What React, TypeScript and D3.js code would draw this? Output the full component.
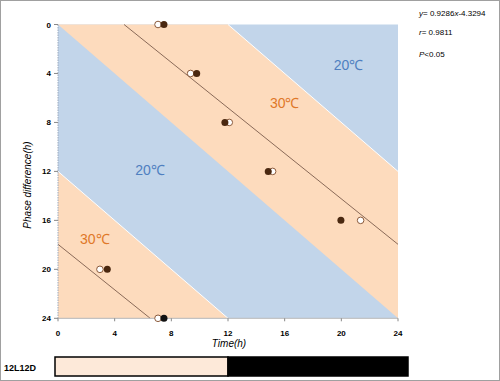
import React from "react";
import * as d3 from "d3";

const phaseDiff = [0, 4, 8, 12, 16, 20, 24];
const openTimes = [7.06, 9.36, 12.09, 15.15, 21.36, 2.96, 7.06];
const filledTimes = [7.48, 9.79, 11.78, 14.84, 19.97, 3.48, 7.48];
const xTicks = [0, 4, 8, 12, 16, 20, 24];
const yTicks = [0, 4, 8, 12, 16, 20, 24];
const slope = 0.9286;
const intercept = -4.3294;
const bandLabels = [
  { t: 20.5, p: 3.7, text: "20℃", color: "#4f7fc0" },
  { t: 16.0, p: 6.8, text: "30℃", color: "#e07828" },
  { t: 6.5, p: 12.3, text: "20℃", color: "#4f7fc0" },
  { t: 2.6, p: 17.9, text: "30℃", color: "#e07828" },
];

export default function App() {
  const W = 500, H = 381;
  const x = d3.scaleLinear().domain([0, 24]).range([58, 398]);
  const y = d3.scaleLinear().domain([0, 24]).range([24.5, 318.3]);
  const poly = (pts: [number, number][]) =>
    "M" + pts.map(([a, b]) => `${x(a)},${y(b)}`).join("L") + "Z";
  const orangeA: [number, number][] = [[0, 0], [12, 0], [24, 12], [24, 24]];
  const orangeD: [number, number][] = [[0, 12], [12, 24], [0, 24]];
  const orange = "#fddbbd";
  const blue = "#c2d5ea";
  const line1 = [[ -intercept / slope, 0], [24, slope * 24 + intercept]];
  const line2 = [[0, slope * 0 + intercept + slope * 24], [(24 - intercept - slope * 24) / slope, 24]];
  const font = "'Liberation Sans', Arial, sans-serif";
  return (
    <svg width={W} height={H} style={{ position: "absolute", left: 0, top: 0 }} fontFamily={font}>
      <rect x={0} y={0} width={W} height={H} fill="#fff" />
      <rect x={0.5} y={0.5} width={W - 1} height={H - 1} fill="none" stroke="#a0a0a0" />
      <rect x={x(0)} y={y(0)} width={x(24) - x(0)} height={y(24) - y(0)} fill={blue} />
      <path d={poly(orangeA)} fill={orange} />
      <path d={poly(orangeD)} fill={orange} />
      <line x1={x(12)} y1={y(0)} x2={x(24)} y2={y(12)} stroke="#fff" strokeWidth={1} />
      <line x1={x(0)} y1={y(12)} x2={x(12)} y2={y(24)} stroke="#fff" strokeWidth={1} />
      {bandLabels.map((b, i) => (
        <text key={i} x={x(b.t)} y={y(b.p)} fill={b.color} fontSize={14} textAnchor="middle">{b.text}</text>
      ))}
      {[line1, line2].map((l, i) => (
        <line key={i} x1={x(l[0][0])} y1={y(l[0][1])} x2={x(l[1][0])} y2={y(l[1][1])} stroke="#8a6a58" strokeWidth={1} />
      ))}
      {/* axes */}
      <line x1={x(0)} y1={y(0)} x2={x(0)} y2={y(24)} stroke="#9aa8bc" strokeWidth={1} strokeDasharray="1.5,1" />
      <line x1={x(0)} y1={y(24)} x2={x(24)} y2={y(24)} stroke="#b8b8b8" strokeWidth={1} />
      {yTicks.map((t) => (
        <g key={"y" + t}>
          <line x1={x(0) - 4} x2={x(0)} y1={y(t)} y2={y(t)} stroke="#888" />
          <text x={x(0) - 7} y={y(t) + 3} fontSize={8} fontWeight="bold" textAnchor="end">{t}</text>
        </g>
      ))}
      {xTicks.map((t) => (
        <g key={"x" + t}>
          <line x1={x(t)} x2={x(t)} y1={y(24)} y2={y(24) + 3} stroke="#888" />
          <text x={x(t)} y={y(24) + 18} fontSize={8} fontWeight="bold" textAnchor="middle">{t}</text>
        </g>
      ))}
      {phaseDiff.map((p, i) => (
        <g key={"pt" + i}>
          <circle cx={x(openTimes[i])} cy={y(p)} r={3.3} fill="#fff" stroke="#8b5a3a" strokeWidth={1} />
          <circle cx={x(filledTimes[i])} cy={y(p)} r={3.5} fill={i === 6 ? "#111" : "#4a2810"} />
        </g>
      ))}
      <text x={229} y={347} fontSize={10} fontStyle="italic" textAnchor="middle">Time(h)</text>
      <text transform="translate(31,185) rotate(-90)" fontSize={10} fontStyle="italic" textAnchor="middle">Phase difference(h)</text>
      <text x={419} y={16} fontSize={8}><tspan fontStyle="italic">y</tspan>= 0.9286<tspan fontStyle="italic">x</tspan>-4.3294</text>
      <text x={419} y={35} fontSize={8}><tspan fontStyle="italic">r</tspan>= 0.9811</text>
      <text x={419} y={57} fontSize={8}><tspan fontStyle="italic">P</tspan>&lt;0.05</text>
      <text x={4} y={371} fontSize={9} fontWeight="bold">12L12D</text>
      <rect x={55} y={357} width={x(12) - 55} height={19} fill="#fde9d9" stroke="#000" strokeWidth={1.5} />
      <rect x={x(12)} y={357} width={408 - x(12)} height={19} fill="#000" stroke="#000" strokeWidth={1.5} />
    </svg>
  );
}
